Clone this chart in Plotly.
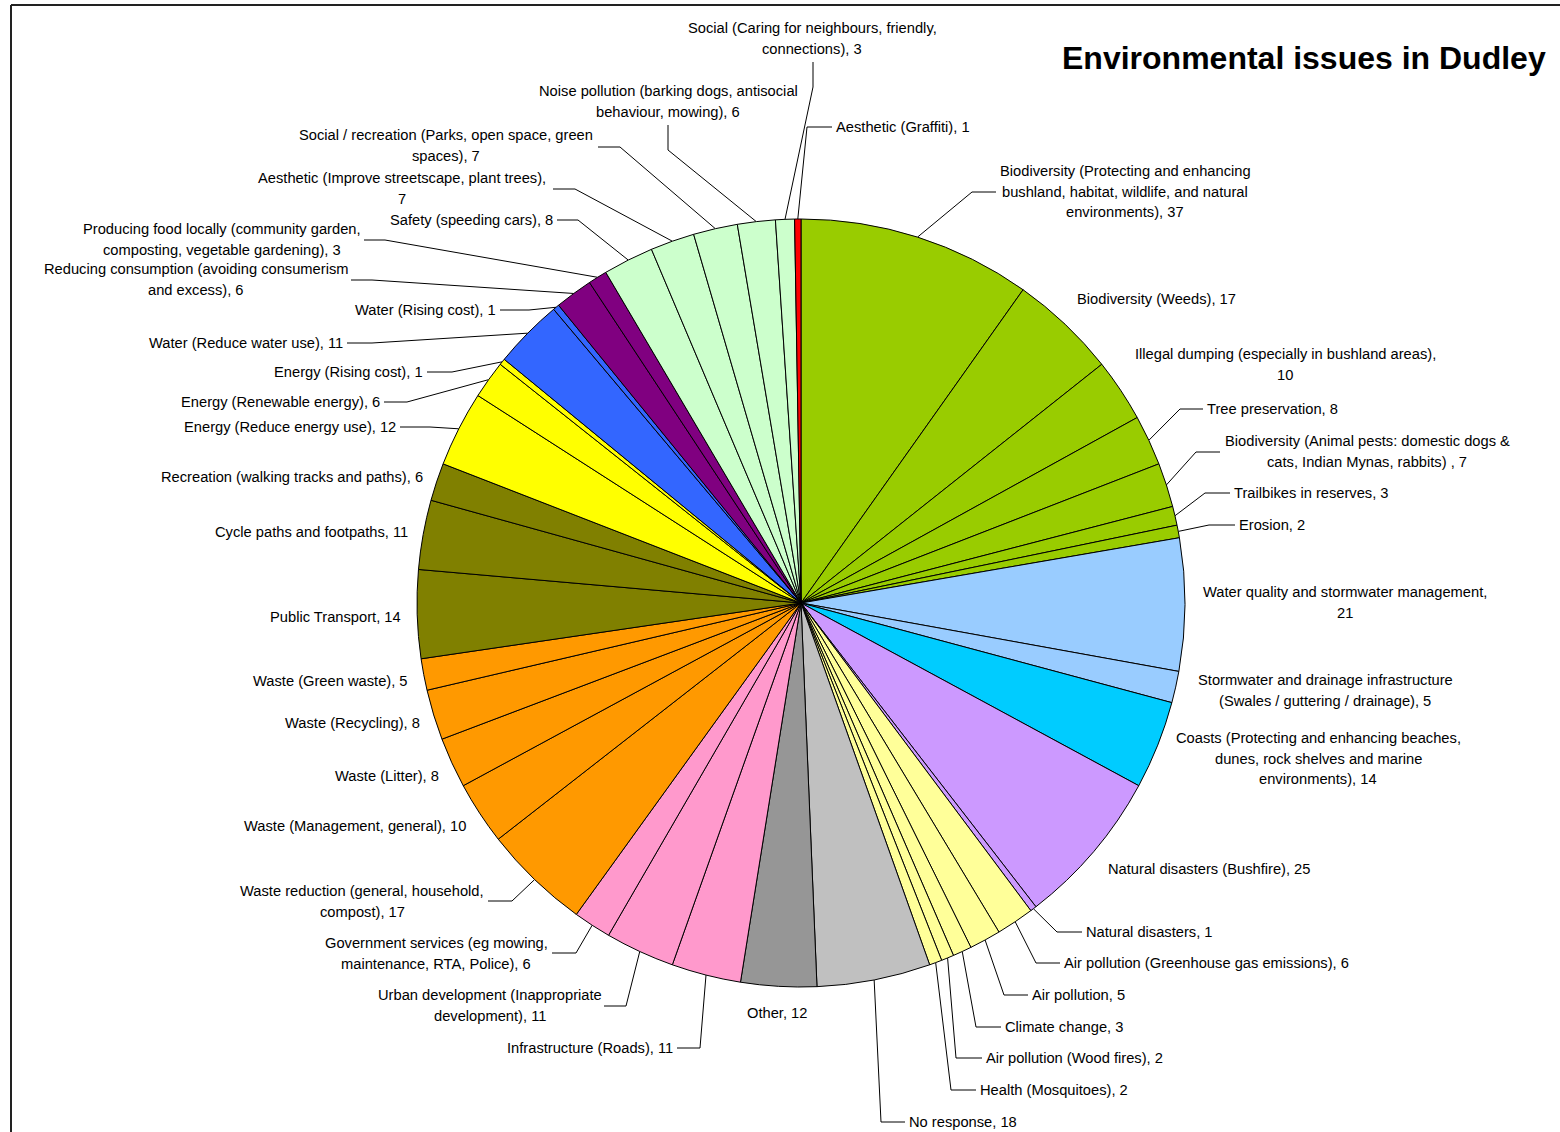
import math
import plotly.graph_objects as go

W, H = 1560, 1132

# ---------------- data ----------------
categories = [
    "Biodiversity (Protecting and enhancing|bushland, habitat, wildlife, and natural|environments)",
    "Biodiversity (Weeds)",
    "Illegal dumping (especially in bushland areas)",
    "Tree preservation",
    "Biodiversity (Animal pests: domestic dogs &|cats, Indian Mynas, rabbits) ",
    "Trailbikes in reserves",
    "Erosion",
    "Water quality and stormwater management",
    "Stormwater and drainage infrastructure|(Swales / guttering / drainage)",
    "Coasts (Protecting and enhancing beaches,|dunes, rock shelves and marine|environments)",
    "Natural disasters (Bushfire)",
    "Natural disasters",
    "Air pollution (Greenhouse gas emissions)",
    "Air pollution",
    "Climate change",
    "Air pollution (Wood fires)",
    "Health (Mosquitoes)",
    "No response",
    "Other",
    "Infrastructure (Roads)",
    "Urban development (Inappropriate|development)",
    "Government services (eg mowing,|maintenance, RTA, Police)",
    "Waste reduction (general, household,|compost)",
    "Waste (Management, general)",
    "Waste (Litter)",
    "Waste (Recycling)",
    "Waste (Green waste)",
    "Public Transport",
    "Cycle paths and footpaths",
    "Recreation (walking tracks and paths)",
    "Energy (Reduce energy use)",
    "Energy (Renewable energy)",
    "Energy (Rising cost)",
    "Water (Reduce water use)",
    "Water (Rising cost)",
    "Reducing consumption (avoiding consumerism|and excess)",
    "Producing food locally (community garden,|composting, vegetable gardening)",
    "Safety (speeding cars)",
    "Aesthetic (Improve streetscape, plant trees)",
    "Social / recreation (Parks, open space, green|spaces)",
    "Noise pollution (barking dogs, antisocial|behaviour, mowing)",
    "Social (Caring for neighbours, friendly,|connections)",
    "Aesthetic (Graffiti)",
]
values = [37, 17, 10, 8, 7, 3, 2, 21, 5, 14, 25, 1, 6, 5, 3, 2, 2, 18, 12,
          11, 11, 6, 17, 10, 8, 8, 5, 14, 11, 6, 12, 6, 1, 11, 1, 6, 3,
          8, 7, 7, 6, 3, 1]
colors = (["#99CC00"] * 7 + ["#99CCFF"] * 2 + ["#00CCFF"] + ["#CC99FF"] * 2 +
          ["#FFFF99"] * 5 + ["#C0C0C0"] + ["#969696"] + ["#FF99CC"] * 3 +
          ["#FF9900"] * 5 + ["#808000"] * 3 + ["#FFFF00"] * 3 +
          ["#3366FF"] * 2 + ["#800080"] * 2 + ["#CCFFCC"] * 5 + ["#FF0000"])
value_on_own_line = {2, 7, 38}
title = "Environmental issues in Dudley"

# ---------------- layout (pixel positions) ----------------
CX, CY, R = 801, 603, 384
label_pos = [
    (1125, 171, "center"), (1075, 299, "left"), (1285, 354, "center"),
    (1205, 409, "left"), (1367, 441, "center"), (1232, 493, "left"),
    (1237, 525, "left"), (1345, 592, "center"), (1325, 680, "center"),
    (1318, 738, "center"), (1106, 869, "left"), (1084, 932, "left"),
    (1062, 963, "left"), (1030, 995, "left"), (1003, 1027, "left"),
    (984, 1058, "left"), (978, 1090, "left"), (907, 1122, "left"),
    (777, 1013, "center"), (675, 1048, "right"), (490, 995, "center"),
    (436, 943, "center"), (362, 891, "center"), (468, 826, "right"),
    (441, 776, "right"), (422, 723, "right"), (410, 681, "right"),
    (403, 617, "right"), (410, 532, "right"), (425, 477, "right"),
    (398, 427, "right"), (382, 402, "right"), (425, 372, "right"),
    (345, 343, "right"), (498, 310, "right"), (196, 269, "center"),
    (222, 229, "center"), (555, 220, "right"), (402, 178, "center"),
    (446, 135, "center"), (668, 91, "center"), (812, 28, "center"),
    (834, 127, "left"),
]
leaders = {
    0: [(972, 192), (996, 192)], 3: [(1180, 409), (1203, 409)],
    4: [(1196, 452), (1220, 452)], 5: [(1205, 493), (1230, 493)],
    6: [(1209, 525), (1235, 525)], 11: [(1057, 932), (1082, 932)],
    12: [(1036, 963), (1060, 963)], 13: [(1004, 995), (1028, 995)],
    14: [(976, 1027), (1001, 1027)], 15: [(956, 1058), (982, 1058)],
    16: [(951, 1090), (976, 1090)], 17: [(881, 1122), (905, 1122)],
    19: [(700, 1048), (677, 1048)], 20: [(626, 1006), (604, 1006)],
    21: [(576, 953), (552, 953)], 22: [(512, 901), (488, 901)],
    30: [(430, 427), (400, 427)], 31: [(407, 402), (384, 402)],
    32: [(452, 372), (427, 372)], 33: [(372, 343), (347, 343)],
    34: [(529, 310), (500, 310)], 35: [(372, 280), (351, 280)],
    36: [(385, 240), (364, 240)], 37: [(578, 220), (557, 220)],
    38: [(575, 189), (553, 189)], 39: [(620, 147), (598, 147)],
    40: [(668, 150), (668, 125)], 41: [(813, 87), (813, 62)],
    42: [(807, 127), (832, 127)],
}
LINE_SP = 20.6
FONT = "Liberation Sans, Arial, Helvetica, sans-serif"
FS = 14.7

# ---------------- figure ----------------
fig = go.Figure()

# leader lines, starting at the slice mid-angle on the pie edge
total = sum(values)
xs, ys = [], []
cum = 0
for i, v in enumerate(values):
    mid = (cum + v / 2) / total * 2 * math.pi
    cum += v
    if i in leaders:
        sx = CX + R * math.sin(mid)
        sy = CY - R * math.cos(mid)
        pts = [(sx, sy)] + leaders[i]
        for px, py in pts:
            xs.append(px)
            ys.append(py)
        xs.append(None)
        ys.append(None)

fig.add_trace(go.Scatter(x=xs, y=ys, mode="lines",
                         line=dict(color="#000000", width=1),
                         hoverinfo="skip", showlegend=False))

fig.add_trace(go.Pie(
    labels=[c.replace("|", " ").strip() for c in categories],
    values=values,
    marker=dict(colors=colors, line=dict(color="#000000", width=1)),
    sort=False, direction="clockwise", rotation=0,
    textinfo="none", showlegend=False,
    domain=dict(x=[(CX - R) / W, (CX + R) / W],
                y=[(H - CY - R) / H, (H - CY + R) / H]),
))

annotations = []
for i, (name, v) in enumerate(zip(categories, values)):
    sep = ",|" if i in value_on_own_line else ", "
    text = name + sep + str(v)
    lines = text.split("|")
    x, y0, anch = label_pos[i]
    for k, ln in enumerate(lines):
        annotations.append(dict(
            x=x, y=y0 + k * LINE_SP, xref="x", yref="y", text=ln,
            showarrow=False, xanchor=anch, yanchor="middle",
            font=dict(family=FONT, size=FS, color="#000000")))

annotations.append(dict(
    x=1548, y=58, xref="x", yref="y", text="<b>" + title + "</b>",
    showarrow=False, xanchor="right", yanchor="middle",
    font=dict(family=FONT, size=32, color="#000000")))

fig.update_layout(
    width=W, height=H, autosize=False,
    margin=dict(l=0, r=0, t=0, b=0, pad=0),
    paper_bgcolor="white", plot_bgcolor="white",
    xaxis=dict(range=[0, W], visible=False, fixedrange=True, domain=[0, 1]),
    yaxis=dict(range=[H, 0], visible=False, fixedrange=True, domain=[0, 1]),
    annotations=annotations,
    shapes=[
        dict(type="line", xref="x", yref="y", x0=11, y0=5, x1=W + 5, y1=5,
             line=dict(color="#222222", width=2)),
        dict(type="line", xref="x", yref="y", x0=11, y0=5, x1=11, y1=H + 5,
             line=dict(color="#222222", width=2)),
    ],
)

fig.write_html(
    "out.html",
    config={"displayModeBar": False},
    post_script="document.body.style.margin='0px';"
                "document.body.style.overflow='hidden';",
)
